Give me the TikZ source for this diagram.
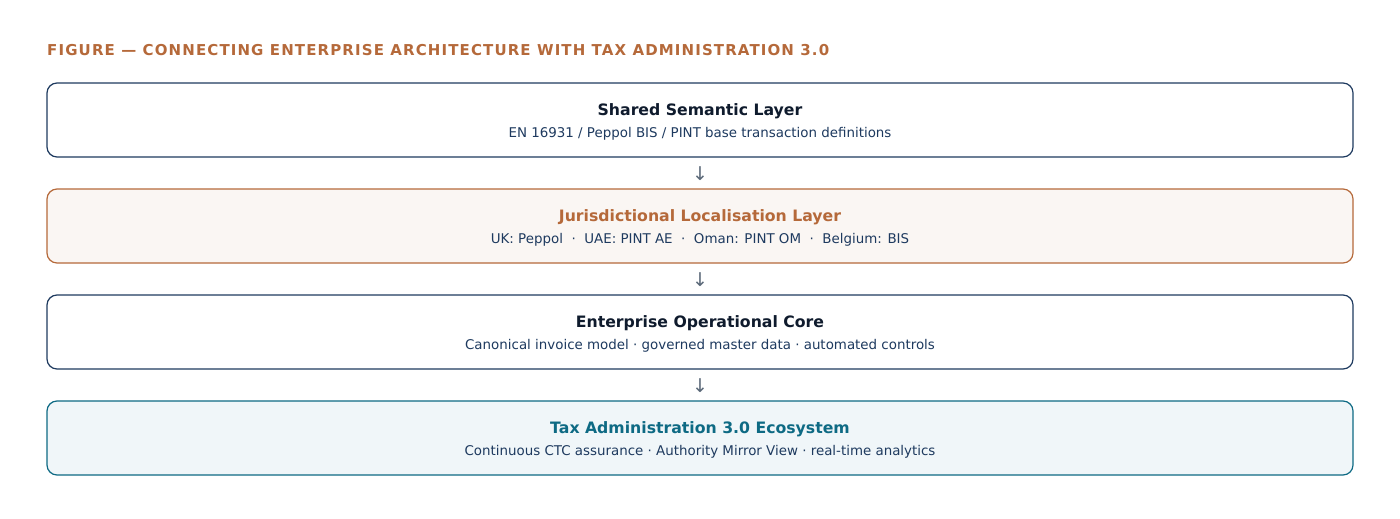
\documentclass[tikz,border=0pt]{standalone}
\usepackage{fontspec}
\usetikzlibrary{calc}
\setmainfont{DejaVu Sans}
\newfontfamily\titlefont[LetterSpace=7.5]{DejaVu Sans}
\definecolor{navy}{HTML}{1E3A5F}
\definecolor{ink}{HTML}{0F1B2D}
\definecolor{sub}{HTML}{1E3A5F}
\definecolor{rust}{HTML}{B5693A}
\definecolor{rustfill}{HTML}{FAF6F3}
\definecolor{teal}{HTML}{0E6A84}
\definecolor{tealfill}{HTML}{F0F6F9}
\definecolor{arrowgray}{HTML}{5A6878}
\tikzset{
  layer/.style={draw=navy, line width=1.2pt, rounded corners=10pt, fill=white,
    minimum width=1306pt, minimum height=74pt, inner sep=0pt},
  rustlayer/.style={layer, draw=rust, fill=rustfill},
  teallayer/.style={layer, draw=teal, fill=tealfill},
  head/.style={font=\fontsize{15.7}{19}\selectfont\bfseries, text=ink},
  subline/.style={font=\fontsize{13.4}{16}\selectfont, text=sub},
  downarrow/.style={font=\fontsize{19}{21}\selectfont, text=arrowgray, inner sep=0pt},
}
\begin{document}
\begin{tikzpicture}[x=1pt,y=-1pt]
\useasboundingbox (0,0) rectangle (1400,519);
\node[anchor=west, inner sep=0pt, text=rust, font=\titlefont\fontsize{15}{18}\selectfont\bfseries] (title) at (47,50.5) {FIGURE — CONNECTING ENTERPRISE ARCHITECTURE WITH TAX ADMINISTRATION 3.0};

\node[layer] (l1) at (700,120) {};
\node[rustlayer] (l2) at (700,226) {};
\node[layer] (l3) at (700,332) {};
\node[teallayer] (l4) at (700,438) {};

\node[head] (h1) at (700,111) {Shared Semantic Layer};
\node[subline] (s1) at (700,133.5) {EN 16931 / Peppol BIS / PINT base transaction definitions};
\node[head, text=rust] (h2) at (700,217) {Jurisdictional Localisation Layer};
\node[subline] (s2) at (700,239.5) {UK: Peppol \ · \ UAE: PINT AE \ · \ Oman: PINT OM \ · \ Belgium: BIS};
\node[head] (h3) at (700,323) {Enterprise Operational Core};
\node[subline] (s3) at (700,345.5) {Canonical invoice model · governed master data · automated controls};
\node[head, text=teal] (h4) at (700,429) {Tax Administration 3.0 Ecosystem};
\node[subline] (s4) at (700,451.5) {Continuous CTC assurance · Authority Mirror View · real-time analytics};

\node[downarrow, yshift=-1pt] (a1) at ($(l1.south)!0.5!(l2.north)$) {↓};
\node[downarrow, yshift=-1pt] (a2) at ($(l2.south)!0.5!(l3.north)$) {↓};
\node[downarrow, yshift=-1pt] (a3) at ($(l3.south)!0.5!(l4.north)$) {↓};
\end{tikzpicture}
\end{document}
